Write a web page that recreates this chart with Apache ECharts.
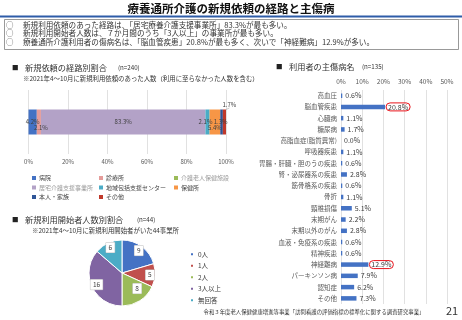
<!DOCTYPE html>
<html>
<head>
<meta charset="utf-8">
<script src="https://cdn.jsdelivr.net/npm/echarts@6/dist/echarts.min.js"></script>
<style>
html, body { margin: 0; padding: 0; background: #fff; }
#chart { width: 462px; height: 320px; }
</style>
</head>
<body>
<div id="chart"></div>
<script>
// 新規依頼の経路別割合 (n=240)
var routeNames = ['病院', '診療所', '介護老人保健施設', '居宅介護支援事業所', '地域包括支援センター', '保健所', '本人・家族', 'その他'];
var routeValues = [4.2, 2.1, 0, 83.3, 2.1, 5.4, 1.3, 1.7];
var routeTicks = [0, 20, 40, 60, 80, 100];

// 利用者の主傷病名 (n=135)
var diseaseNames = ['高血圧', '脳血管疾患', '心臓病', '糖尿病', '高脂血症(脂質異常)', '呼吸器疾患',
  '胃腸・肝臓・胆のうの疾患', '腎・泌尿器系の疾患', '筋骨格系の疾患', '骨折', '頸椎損傷', '末期がん',
  '末期以外のがん', '血液・免疫系の疾患', '精神疾患', '神経難病', 'パーキンソン病', '認知症', 'その他'];
var diseaseValues = [0.6, 20.8, 1.1, 1.7, 0.0, 1.1, 0.6, 2.8, 0.6, 1.1, 5.1, 2.2, 2.8, 0.6, 0.6, 12.9, 7.9, 6.2, 7.3];
var circled = ['脳血管疾患', '神経難病'];

// 新規利用開始者人数別割合 (n=44)
var starterNames = ['0人', '1人', '2人', '3人以上', '無回答'];
var starterValues = [9, 5, 8, 16, 6];

var routeColors = ['#4472C4', '#E59C9A', '#9BBB59', '#B3A2C7', '#4BACC6', '#F79646', '#2F5597', '#C0392B'];
var pieColors = ['#4472C4', '#C0504D', '#9BBB59', '#8064A2', '#4BACC6'];
// label nudges (Excel places some labels by hand)
var routeNudge = [[0, 0], [2, 6], [0, 0], [0, 0], [-2, 0], [0, 6], [-1, 0], [5, -17]];
var starterNudge = [[0, 0], [0, 0], [0, -8], [0, 0], [0, 0]];

var FONT = "'Noto Sans CJK JP', sans-serif";
var chart = echarts.init(document.getElementById('chart'));

function txt(text, x, y, size, opts) {
  opts = opts || {};
  return {
    type: 'text', x: x, y: y, silent: true,
    style: {
      text: text, font: (opts.bold ? 'bold ' : '') + size + 'px ' + FONT,
      fill: opts.color || '#333', textAlign: opts.align || 'left', textVerticalAlign: 'middle'
    }
  };
}

var routeSeries = routeNames.map(function (name, i) {
  var s = {
    type: 'bar', name: name, stack: 'route', xAxisIndex: 0, yAxisIndex: 0,
    barWidth: 25, itemStyle: { color: routeColors[i] },
    data: [routeValues[i]],
    label: {
      show: routeValues[i] > 0, position: 'inside', fontSize: 6, fontFamily: FONT, color: '#404040',
      formatter: function (p) { return p.value.toFixed(1) + '%'; }
    },
    labelLayout: { dx: routeNudge[i][0], dy: routeNudge[i][1] }
  };
  if (routeNudge[i][1] < -10) {
    s.labelLine = { show: true, lineStyle: { color: '#a6a6a6', width: 0.6 } };
  }
  return s;
});

var legendBase = {
  orient: 'vertical', icon: 'rect', itemWidth: 4, itemHeight: 4, itemGap: 3.5,
  textStyle: { fontSize: 6, fontFamily: FONT, color: '#404040', padding: [0, 0, 0, -2] }
};
function legendCol(names, left) {
  return Object.assign({}, legendBase, {
    left: left, top: 170,
    data: names.map(function (n) {
      var grey = (n === '介護老人保健施設' || n === '居宅介護支援事業所');
      return grey ? { name: n, textStyle: { color: '#9a9a9a' } } : n;
    })
  });
}

var option = {
  animation: false,
  backgroundColor: '#fff',
  textStyle: { fontFamily: FONT },
  grid: [
    { left: 28.5, width: 197.5, top: 90, height: 64 },
    { left: 341, width: 106, top: 90, height: 214 }
  ],
  xAxis: [
    {
      gridIndex: 0, type: 'value', min: 0, max: 100, interval: 20,
      axisLine: { show: false }, axisTick: { show: false },
      splitLine: { lineStyle: { color: '#d9d9d9', width: 0.8 } },
      axisLabel: { formatter: '{value}%', fontSize: 6, color: '#595959', margin: 5 }
    },
    {
      gridIndex: 1, type: 'value', position: 'top', min: 0, max: 50, interval: 10,
      axisLine: { show: false }, axisTick: { show: false },
      splitLine: { lineStyle: { color: '#d9d9d9', width: 0.8 } },
      axisLabel: { formatter: '{value}%', fontSize: 6.5, color: '#595959', margin: 5 }
    }
  ],
  yAxis: [
    { gridIndex: 0, type: 'category', data: [''], show: false },
    {
      gridIndex: 1, type: 'category', inverse: true, data: diseaseNames,
      axisLine: { show: false }, axisTick: { show: false },
      axisLabel: { fontSize: 6.5, color: '#595959', margin: 4 }
    }
  ],
  legend: [
    legendCol([routeNames[0], routeNames[3], routeNames[6]], 27),
    legendCol([routeNames[1], routeNames[4], routeNames[7]], 94),
    legendCol([routeNames[2], routeNames[5]], 169),
    Object.assign({}, legendBase, {
      left: 184, top: 246, itemGap: 5,
      textStyle: { fontSize: 6.5, fontFamily: FONT, color: '#404040', padding: [0, 0, 0, -1] },
      data: starterNames
    })
  ],
  series: routeSeries.concat([
    {
      type: 'bar', name: '主傷病名', xAxisIndex: 1, yAxisIndex: 1, barWidth: 4.5,
      itemStyle: { color: '#4472C4' },
      label: {
        show: true, position: 'right', distance: 3, fontSize: 7, color: '#404040',
        formatter: function (p) { return p.value.toFixed(1) + '%'; }
      },
      data: diseaseValues.map(function (v, i) {
        if (circled.indexOf(diseaseNames[i]) < 0) return v;
        return {
          value: v,
          label: { borderColor: '#e8141b', borderWidth: 1, borderRadius: 8, padding: [1, 2, 0, 2], distance: 1 }
        };
      })
    },
    {
      type: 'pie', name: '人数', center: [122, 273], radius: [0, 33], startAngle: 90, clockwise: true,
      label: { show: false }, labelLine: { show: false },
      itemStyle: { borderColor: '#fff', borderWidth: 1 },
      data: starterNames.map(function (n, i) {
        return { name: n, value: starterValues[i], itemStyle: { color: pieColors[i] } };
      })
    },
    {
      type: 'pie', name: '人数ラベル', center: [122, 273], radius: [17, 33], startAngle: 90, clockwise: true,
      silent: true, legendHoverLink: false,
      itemStyle: { color: 'rgba(0,0,0,0)' },
      label: {
        show: true, position: 'inside', fontSize: 6.5, color: '#404040',
        backgroundColor: '#fff', borderColor: '#bfbfbf', borderWidth: 0.5, padding: [2, 2.5, 1.5, 2.5],
        formatter: '{c}'
      },
      labelLayout: function (p) {
        return { dx: starterNudge[p.dataIndex][0], dy: starterNudge[p.dataIndex][1] };
      },
      data: starterNames.map(function (n, i) {
        return { name: n + ' ', value: starterValues[i] };
      })
    }
  ]),
  graphic: [
    txt('療養通所介護の新規依頼の経路と主傷病', 231, 8.5, 11.5, { bold: true, align: 'center', color: '#111' }),
    { type: 'rect', shape: { x: 0, y: 15.5, width: 462, height: 2 }, style: { fill: '#2E5CA8' }, silent: true },
    { type: 'rect', shape: { x: 4.5, y: 19.5, width: 454, height: 30 }, style: { fill: 'none', stroke: '#7f7f7f', lineWidth: 0.8 }, silent: true },
    txt('○', 6, 25, 7.5, { color: '#333' }),
    txt('○', 6, 33.5, 7.5, { color: '#333' }),
    txt('○', 6, 42.5, 7.5, { color: '#333' }),
    txt('新規利用依頼のあった経路は、「居宅療養介護支援事業所」83.3%が最も多い。', 23, 25, 7.6),
    txt('新規利用開始者人数は、７か月間のうち「3人以上」の事業所が最も多い。', 23, 33.5, 7.6),
    txt('療養通所介護利用者の傷病名は、「脳血管疾患」20.8%が最も多く、次いで「神経難病」12.9%が多い。', 23, 42.5, 7.6),

    txt('■', 12, 68, 6.5, { color: '#222' }),
    txt('新規依頼の経路別割合', 25, 68, 8.2, { color: '#333' }),
    txt('(n=240)', 118, 68, 6.2, { color: '#333' }),
    txt('※2021年4～10月に新規利用依頼のあった人数（利用に至らなかった人数を含む）', 23, 79, 6.4, { color: '#333' }),

    txt('■', 276, 66.5, 6.5, { color: '#222' }),
    txt('利用者の主傷病名', 289, 66.5, 8.2, { color: '#333' }),
    txt('(n=135)', 362, 66.5, 6.2, { color: '#333' }),

    txt('■', 12, 220, 6.5, { color: '#222' }),
    txt('新規利用開始者人数別割合', 25, 220, 8.2, { color: '#333' }),
    txt('(n=44)', 137, 220, 6.2, { color: '#333' }),
    txt('※2021年4～10月に新規利用開始者がいた44事業所', 32, 231, 6.4, { color: '#333' }),

    txt('令和３年度老人保健健康増進等事業「訪問看護の評価指標の標準化に関する調査研究事業」', 314, 312, 5.4, { align: 'center', color: '#333' }),
    txt('21', 452, 311, 11, { align: 'center', color: '#333' })
  ]
};

chart.setOption(option);
</script>
</body>
</html>
